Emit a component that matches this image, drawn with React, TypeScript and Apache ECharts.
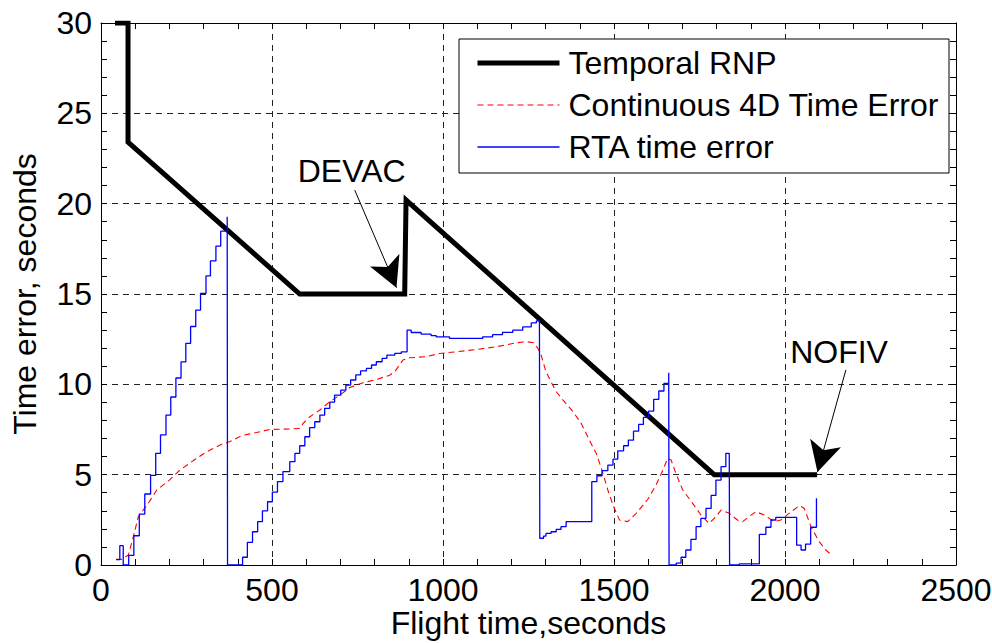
import React, { useEffect, useRef } from "react";
import * as echarts from "echarts";

// Temporal RNP envelope [flight time s, time error s]
const rnpData: [number, number][] = [
  [41, 30], [79, 30], [79, 23.4], [581, 15], [888, 15], [892, 20.2], [1793, 5], [2094, 5],
];

// Continuous 4D time error (red dashed)
const contData: [number, number][] = [
  [44, 0.31], [60, 0.31], [80, 0.55], [95, 1.6], [109, 2.67], [138, 3.41], [163, 4.15], [200, 4.7],
  [231, 5.26], [270, 5.78], [309, 6.27], [348, 6.64], [377, 6.83], [411, 7.16], [455, 7.33],
  [494, 7.5], [552, 7.53], [582, 7.56], [591, 7.84], [611, 8.21], [640, 8.58], [669, 9.04],
  [698, 9.4], [728, 9.83], [766, 10.09], [805, 10.27], [844, 10.5], [859, 10.7], [883, 11.35],
  [903, 11.47], [951, 11.53], [990, 11.71], [1039, 11.8], [1098, 11.93], [1156, 12.08],
  [1215, 12.3], [1245, 12.36], [1265, 12.3], [1277, 12.0], [1287, 11.62], [1301, 10.7],
  [1316, 10.14], [1331, 9.59], [1351, 9.13], [1380, 8.49], [1404, 7.84], [1428, 6.91],
  [1448, 6.18], [1463, 5.35], [1482, 4.15], [1497, 3.32], [1516, 2.49], [1540, 2.4],
  [1565, 2.86], [1599, 3.64], [1623, 4.43], [1643, 5.26], [1657, 5.9], [1667, 5.81],
  [1681, 5.07], [1701, 4.15], [1730, 3.41], [1754, 2.77], [1778, 2.3], [1798, 2.68],
  [1813, 3.04], [1837, 2.86], [1861, 2.49], [1876, 2.4], [1895, 2.68], [1915, 2.95],
  [1939, 2.77], [1968, 2.4], [1988, 2.49], [2012, 2.86], [2042, 3.29], [2056, 3.14],
  [2076, 2.12], [2100, 1.29], [2119, 0.83], [2137, 0.55],
];

// RTA time error (blue, stepped)
const rtaData: [number, number][] = [
  [44, 0.3], [55, 1.07], [65, 0], [81, 0.53], [96, 1.62], [112, 2.82], [128, 3.93], [145, 4.96],
  [160, 6.18], [174, 7.2], [190, 8.3], [204, 9.3], [219, 10.35], [234, 11.24], [248, 12.27],
  [262, 13.2], [277, 14.11], [291, 15.03], [307, 16.0], [320, 16.83], [336, 17.65], [350, 18.48],
  [369, 19.28], [370, 0], [414, 0.43], [428, 1.25], [443, 1.84], [458, 2.4], [472, 3.0],
  [487, 3.5], [501, 4.03], [516, 4.62], [532, 5.17], [552, 5.72], [567, 6.18], [581, 6.6],
  [596, 7.1], [610, 7.6], [625, 7.93], [640, 8.3], [654, 8.67], [669, 9.02], [683, 9.4],
  [701, 9.68], [716, 9.96], [730, 10.24], [745, 10.52], [759, 10.74], [776, 10.88],
  [791, 11.07], [805, 11.25], [822, 11.44], [836, 11.62], [859, 11.71], [878, 11.8],
  [895, 13.0], [907, 12.87], [936, 12.78], [965, 12.7], [980, 12.63], [1019, 12.54],
  [1116, 12.63], [1145, 12.75], [1174, 12.88], [1204, 13.0], [1233, 13.18], [1258, 13.4],
  [1273, 13.51], [1282, 13.56], [1283, 1.48], [1294, 1.6], [1301, 1.75], [1316, 1.84],
  [1331, 1.97], [1345, 2.12], [1360, 2.4], [1435, 4.61], [1450, 4.94], [1465, 5.22],
  [1482, 5.53], [1497, 5.86], [1511, 6.32], [1528, 6.6], [1542, 6.91], [1557, 7.41],
  [1572, 7.78], [1586, 8.17], [1601, 8.52], [1616, 9.17], [1631, 9.63], [1646, 10.05],
  [1660, 10.64], [1661, 0], [1682, 0.1], [1696, 0.43], [1710, 0.83], [1725, 1.42],
  [1740, 2.12], [1754, 2.58], [1769, 3.13], [1784, 3.85], [1798, 4.7], [1813, 5.44],
  [1827, 6.18], [1837, 6.18], [1838, 0], [1866, 0.06], [1925, 1.7], [1944, 2.09],
  [1959, 2.49], [1973, 2.64], [2034, 1.1], [2047, 0.83], [2060, 1.16], [2075, 2.09],
  [2092, 3.69],
];

// Annotations: label position and arrow (start -> tip), in data units
const devacLabel: [number, number] = [733, 21.8];
const devacArrow: [[number, number], [number, number]] = [[742, 20.75], [864, 15.35]];
const nofivLabel: [number, number] = [2158, 11.8];
const nofivArrow: [[number, number], [number, number]] = [[2178, 10.8], [2095, 5.15]];

const xTicks = { min: 0, max: 2500, interval: 500 };
const yTicks = { min: 0, max: 30, interval: 5 };

const FONT = "'Liberation Sans', Arial, Helvetica, sans-serif";
const FS = 32;

export default function App() {
  const ref = useRef<HTMLDivElement>(null);
  useEffect(() => {
    if (!ref.current) return;
    const chart = echarts.init(ref.current, undefined, { renderer: "svg" });
    const axisLine = { show: true, onZero: false, lineStyle: { color: "#000", width: 1 } };
    const axisTick = { show: true, inside: true, length: 6, lineStyle: { color: "#000", width: 1 } };
    const minorTick = { show: true, splitNumber: 5, length: 6, lineStyle: { color: "#000", width: 1 } };
    const split = { show: true, lineStyle: { color: "#222", width: 1, type: [6, 5] } };
    const plain = (v: number) => String(v);
    const arrowLine = (a: [[number, number], [number, number]]) => [
      { coord: a[0], symbol: "none" },
      { coord: a[1], symbol: "arrow", symbolSize: [24, 30] },
    ];
    const textPoint = (name: string, c: [number, number]) => ({
      name,
      coord: c,
      symbol: "circle",
      symbolSize: 0,
      label: { show: true, position: "inside", formatter: "{b}", fontSize: FS, color: "#000", fontFamily: FONT },
    });
    chart.setOption({
      animation: false,
      backgroundColor: "#fff",
      textStyle: { fontFamily: FONT },
      grid: { left: 101, right: 36, top: 23, bottom: 78, containLabel: false, outerBoundsMode: "none" },
      legend: {
        show: true,
        orient: "vertical",
        left: 459,
        top: 39,
        padding: [8, 10, 10, 16],
        itemGap: 10,
        itemWidth: 82,
        itemHeight: 14,
        backgroundColor: "#fff",
        borderColor: "#000",
        borderWidth: 1,
        borderRadius: 0,
        itemStyle: { opacity: 0 },
        lineStyle: { width: "inherit" },
        textStyle: { fontSize: FS, color: "#000", lineHeight: 32, padding: [0, 0, 0, 4], fontFamily: FONT },
        data: ["Temporal RNP", "Continuous 4D Time Error", "RTA time error"],
      },
      xAxis: [
        {
          type: "value",
          ...xTicks,
          position: "bottom",
          name: "Flight time,seconds",
          nameLocation: "middle",
          nameGap: 42,
          nameMoveOverlap: false,
          nameTextStyle: { fontSize: FS, lineHeight: 32, color: "#000", fontFamily: FONT },
          axisLine,
          axisTick,
          minorTick,
          axisLabel: { fontSize: FS, color: "#000", margin: 9, fontFamily: FONT, formatter: plain },
          splitLine: split,
        },
        {
          type: "value",
          ...xTicks,
          position: "top",
          axisLine,
          axisTick,
          minorTick,
          axisLabel: { show: false },
          splitLine: { show: false },
        },
      ],
      yAxis: [
        {
          type: "value",
          ...yTicks,
          position: "left",
          name: "Time error, seconds",
          nameLocation: "middle",
          nameGap: 60,
          nameMoveOverlap: false,
          nameRotate: 90,
          nameTextStyle: { fontSize: FS, color: "#000", fontFamily: FONT },
          axisLine,
          axisTick,
          minorTick,
          axisLabel: { fontSize: FS, color: "#000", margin: 9, fontFamily: FONT, formatter: plain },
          splitLine: split,
        },
        {
          type: "value",
          ...yTicks,
          position: "right",
          axisLine,
          axisTick,
          minorTick,
          axisLabel: { show: false },
          splitLine: { show: false },
        },
      ],
      series: [
        {
          name: "Temporal RNP",
          type: "line",
          data: rnpData,
          symbol: "none",
          lineStyle: { color: "#000", width: 5, join: "miter" },
          itemStyle: { color: "#000" },
          z: 2,
          markLine: {
            silent: true,
            animation: false,
            label: { show: false },
            lineStyle: { color: "#000", width: 1, type: "solid" },
            data: [arrowLine(devacArrow), arrowLine(nofivArrow)],
          },
          markPoint: {
            silent: true,
            animation: false,
            data: [textPoint("DEVAC", devacLabel), textPoint("NOFIV", nofivLabel)],
          },
        },
        {
          name: "Continuous 4D Time Error",
          type: "line",
          data: contData,
          symbol: "none",
          smooth: false,
          lineStyle: { color: "#ff0000", width: 1.1, type: [6, 4] },
          itemStyle: { color: "#ff0000" },
          z: 3,
        },
        {
          name: "RTA time error",
          type: "line",
          data: rtaData,
          symbol: "none",
          step: "end",
          lineStyle: { color: "#0000ff", width: 1.3 },
          itemStyle: { color: "#0000ff" },
          z: 4,
        },
      ],
    });
    return () => chart.dispose();
  }, []);
  return (
    <div
      ref={ref}
      style={{ position: "fixed", left: 0, top: 0, width: 992, height: 643, background: "#fff" }}
    />
  );
}
